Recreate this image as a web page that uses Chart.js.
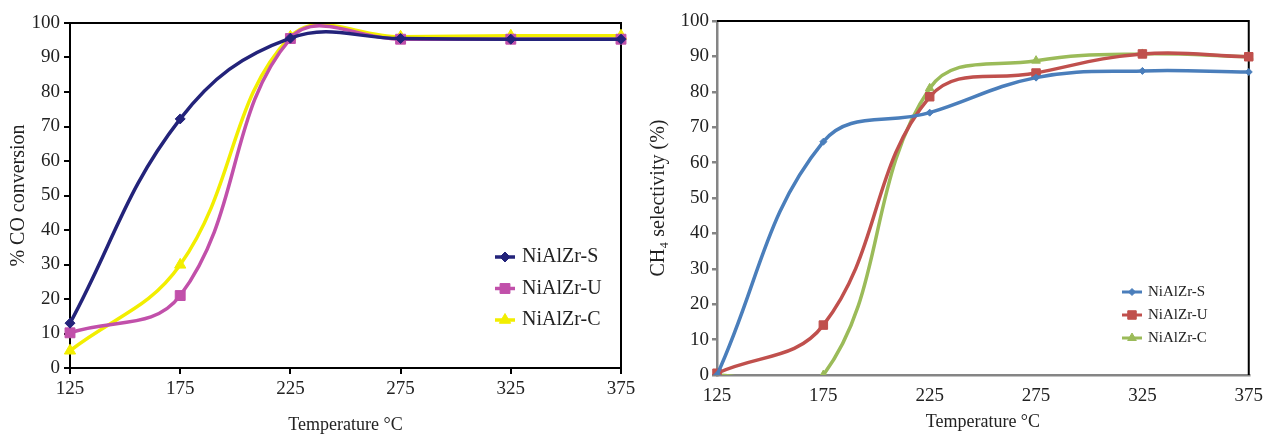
<!DOCTYPE html>
<html>
<head>
<meta charset="utf-8">
<title>CO conversion and CH4 selectivity</title>
<script src="https://cdn.jsdelivr.net/npm/chart.js@4.4.0/dist/chart.umd.min.js"></script>
<style>
  html, body { margin: 0; padding: 0; background: #fff; }
  canvas { position: absolute; top: 0; }
</style>
</head>
<body>
<canvas id="coChart" width="640" height="436" style="left:0"></canvas>
<canvas id="ch4Chart" width="633" height="436" style="left:640px"></canvas>
<script>
// Data
const temperatures = ['125', '175', '225', '275', '325', '375'];
const sampleNames = ['NiAlZr-S', 'NiAlZr-U', 'NiAlZr-C'];

// % CO conversion
const coS = [13.0, 72.2, 95.6, 95.5, 95.3, 95.3];
const coU = [10.2, 21.0, 95.5, 95.3, 95.3, 95.3];
const coC = [5.0, 29.9, 96.0, 96.0, 96.3, 96.3];

// CH4 selectivity (%)
const chS = [0, 65.9, 74.1, 84.0, 85.9, 85.6];
const chU = [0.5, 14.1, 78.6, 85.3, 90.7, 89.9];
const chC = [0, 0, 81.0, 88.8, 90.7, 89.9];

const yTicks = { min: 0, max: 100, step: 10 };
const serif = "'Liberation Serif', 'DejaVu Serif', serif";

/**
 * Top and right edges of the plot box
 */
const framePlugin = {
  id: 'frame',
  beforeDatasetsDraw(chart, args, opts) {
    const { ctx, chartArea: a } = chart;
    ctx.save();
    ctx.strokeStyle = opts.color;
    ctx.lineWidth = opts.width;
    ctx.beginPath();
    ctx.moveTo(a.left, a.top);
    ctx.lineTo(a.right, a.top);
    ctx.lineTo(a.right, a.bottom);
    ctx.stroke();
    ctx.restore();
  }
};

/**
 * Legend drawn inside the plot area, Excel style
 */
const boxLegend = {
  id: 'boxLegend',
  afterDatasetsDraw(chart, args, o) {
    const ctx = chart.ctx;
    ctx.save();
    ctx.font = o.font;
    ctx.textBaseline = 'middle';
    ctx.textAlign = 'left';
    chart.data.datasets.forEach((ds, i) => {
      const y = o.y + i * o.rowGap;
      ctx.strokeStyle = ds.borderColor;
      ctx.lineWidth = o.lineWidth;
      ctx.beginPath();
      ctx.moveTo(o.x, y);
      ctx.lineTo(o.x + o.lineLen, y);
      ctx.stroke();
      ctx.fillStyle = ds.backgroundColor;
      ctx.lineWidth = 1;
      Chart.helpers.drawPoint(ctx, {
        pointStyle: ds.pointStyle,
        radius: ds.pointRadius,
        borderWidth: 1,
        rotation: 0
      }, o.x + o.lineLen / 2, y);
      ctx.fillStyle = o.color;
      ctx.fillText(ds.label, o.x + o.lineLen + o.textGap, y);
    });
    ctx.restore();
  }
};

function makeDataset(label, data, color, style, radius, width) {
  return {
    label: label,
    data: data,
    borderColor: color,
    backgroundColor: color,
    borderWidth: width,
    pointStyle: style,
    pointRadius: radius,
    pointHoverRadius: radius,
    pointBorderWidth: 1,
    tension: 0.4,
    clip: { left: 10, right: 10, top: -1, bottom: 0 }
  };
}

function makeChart(canvasId, datasets, s) {
  return new Chart(document.getElementById(canvasId), {
    type: 'line',
    data: { labels: temperatures, datasets: datasets },
    plugins: [framePlugin, boxLegend],
    options: {
      responsive: false,
      animation: false,
      layout: { padding: { left: 0, right: s.padRight, top: s.top, bottom: 0 } },
      elements: { line: { capBezierPoints: false } },
      scales: {
        x: {
          offset: false,
          afterFit: (scale) => { scale.height = s.xHeight; },
          border: { display: true, color: s.axisColor, width: s.axisWidth },
          grid: {
            drawOnChartArea: false,
            drawTicks: s.xTicks,
            tickLength: 6,
            color: s.axisColor,
            lineWidth: s.axisWidth
          },
          ticks: {
            color: '#222',
            padding: s.xLabelPad,
            maxRotation: 0,
            font: { family: serif, size: 19 }
          },
          title: {
            display: true,
            text: 'Temperature °C',
            color: '#222',
            padding: { top: 0, bottom: s.xTitlePad },
            font: { family: serif, size: 18 }
          }
        },
        y: {
          min: yTicks.min,
          max: yTicks.max,
          afterFit: (scale) => { scale.width = s.yWidth; },
          border: { display: true, color: s.axisColor, width: s.axisWidth },
          grid: {
            drawOnChartArea: false,
            drawTicks: true,
            tickLength: s.yTickLen,
            color: s.axisColor,
            lineWidth: s.axisWidth
          },
          ticks: {
            stepSize: yTicks.step,
            color: '#222',
            padding: s.yLabelPad,
            font: { family: serif, size: 19 }
          },
          title: {
            display: true,
            text: s.yTitle,
            color: '#222',
            padding: { top: 7, bottom: 0 },
            font: { family: serif, size: 20 }
          }
        }
      },
      plugins: {
        legend: { display: false },
        tooltip: { enabled: false },
        frame: { color: '#000', width: 2 },
        boxLegend: s.legend
      }
    }
  });
}

makeChart('coChart', [
  makeDataset(sampleNames[0], coS, '#23237a', 'rectRot', 5, 3.5),
  makeDataset(sampleNames[1], coU, '#c150aa', 'rect', 7, 3.5),
  makeDataset(sampleNames[2], coC, '#f2ee00', 'triangle', 6.5, 3.5)
], {
  padRight: 19,
  top: 23,
  xHeight: 68,
  yWidth: 70,
  axisColor: '#000',
  axisWidth: 2,
  xTicks: true,
  xLabelPad: 4,
  xTitlePad: 0,
  yTickLen: 6,
  yLabelPad: 4,
  yTitle: '% CO conversion',
  legend: {
    x: 495, y: 257, rowGap: 31.5, lineLen: 20, textGap: 7, lineWidth: 3.5,
    font: '20px ' + serif, color: '#222'
  }
});

makeChart('ch4Chart', [
  makeDataset(sampleNames[0], chS, '#4a7ebb', 'rectRot', 3.5, 3.5),
  makeDataset(sampleNames[1], chU, '#c0504d', 'rect', 6, 3.5),
  makeDataset(sampleNames[2], chC, '#9bbb59', 'triangle', 5, 3.5)
], {
  padRight: 20,
  top: 21,
  xHeight: 61,
  yWidth: 77,
  axisColor: '#858585',
  axisWidth: 2.5,
  xTicks: false,
  xLabelPad: 10,
  xTitlePad: 3,
  yTickLen: 5,
  yLabelPad: 3,
  yTitle: 'CH₄ selectivity (%)',
  legend: {
    x: 482, y: 292, rowGap: 23, lineLen: 20, textGap: 6, lineWidth: 3,
    font: '15px ' + serif, color: '#222'
  }
});
</script>
</body>
</html>
